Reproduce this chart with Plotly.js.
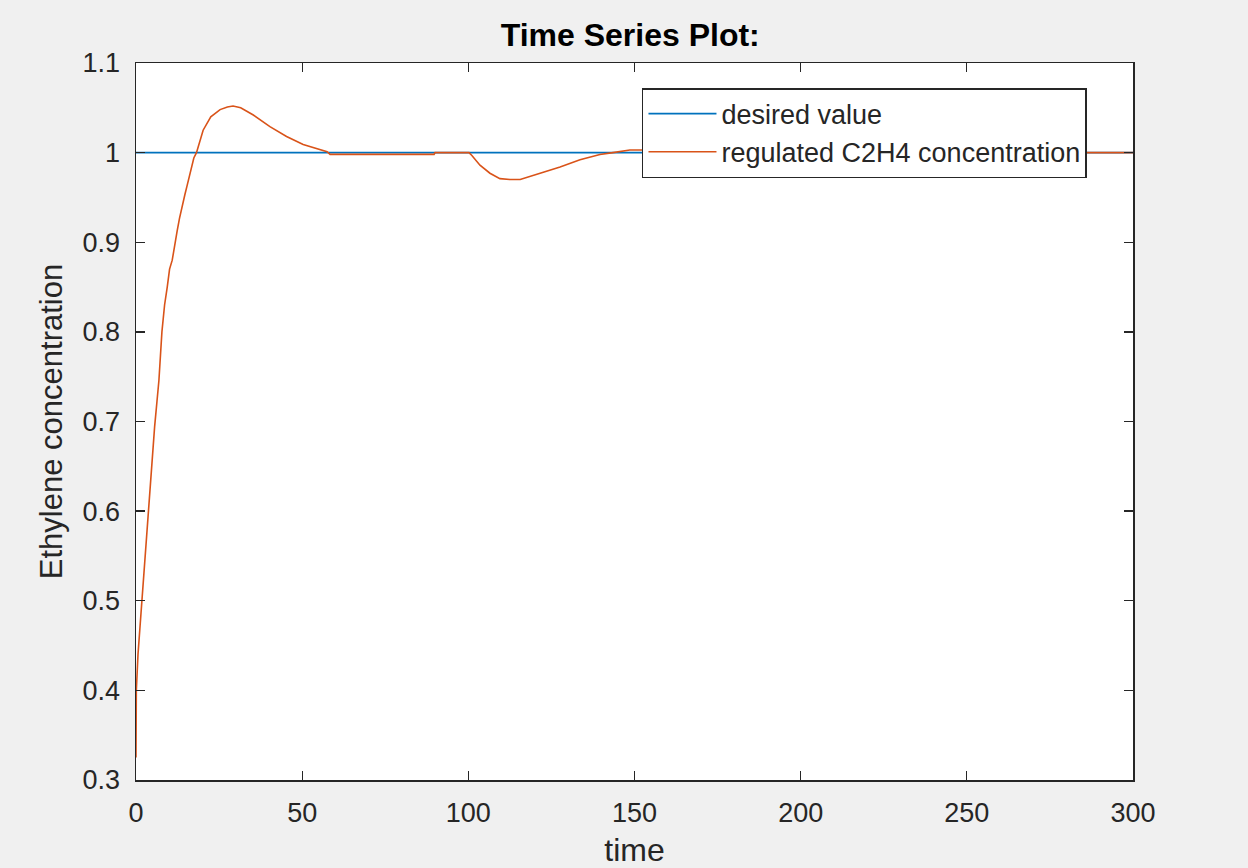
<!DOCTYPE html>
<html>
<head>
<meta charset="utf-8">
<script src="https://cdn.plot.ly/plotly-3.0.1.min.js"></script>
<style>
html,body{margin:0;padding:0;background:#f0f0f0;}
#chart{width:1248px;height:868px;}
</style>
</head>
<body>
<div id="chart"></div>
<script>
var desiredTime = [0, 300];
var desiredValue = [1, 1];

var time = [0, 0.1, 0.6, 1.4, 2.1, 2.8, 3.6, 4.3, 4.9, 5.6, 6.3, 6.9, 7.8, 8.6, 9.4, 10.1, 10.9, 11.6, 12.4, 13.1, 13.8, 14.7, 15.3, 15.9, 16.6, 17.4, 18.2, 20.2, 22.5, 25.3, 27.5, 29.2, 31.5, 35.3, 40.3, 45.3, 50.3, 54.5, 57.5, 58.4, 89.7, 90, 100.2, 101, 103.5, 106.5, 109.5, 112.5, 115.6, 121.6, 127.6, 133.6, 139.6, 143.5, 148.6, 152.5, 155, 300];
var concentration = [0.325, 0.40, 0.44, 0.48, 0.52, 0.56, 0.60, 0.632, 0.663, 0.694, 0.722, 0.746, 0.80, 0.83, 0.85, 0.87, 0.88, 0.898, 0.913, 0.927, 0.94, 0.953, 0.962, 0.972, 0.983, 0.994, 1.0, 1.025, 1.04, 1.048, 1.051, 1.052, 1.05, 1.042, 1.029, 1.018, 1.009, 1.004, 1.001, 0.998, 0.998, 1.0, 1.0, 0.997, 0.986, 0.977, 0.971, 0.970, 0.970, 0.977, 0.984, 0.992, 0.998, 1.0, 1.003, 1.003, 1.0, 1.0];

var xTicks = [0, 50, 100, 150, 200, 250, 300];
var yTicks = [0.3, 0.4, 0.5, 0.6, 0.7, 0.8, 0.9, 1, 1.1];
var yTickLabels = ['0.3', '0.4', '0.5', '0.6', '0.7', '0.8', '0.9', '1', '1.1'];

var font = 'Liberation Sans, Arial, sans-serif';

var traces = [
  {x: desiredTime, y: desiredValue, type: 'scatter', mode: 'lines', name: 'desired value',
   line: {color: '#0072BD', width: 1.6}},
  {x: time, y: concentration, type: 'scatter', mode: 'lines', name: 'regulated C2H4 concentration',
   line: {color: '#D95319', width: 1.6}}
];

var axisCommon = {
  showgrid: false, zeroline: false, showline: true, linecolor: '#262626', linewidth: 1.5,
  mirror: 'ticks', ticks: 'inside', ticklen: 9, tickwidth: 1.3, tickcolor: '#262626',
  tickfont: {family: font, size: 27, color: '#262626'}
};

var layout = {
  width: 1248, height: 868,
  paper_bgcolor: '#f0f0f0', plot_bgcolor: '#ffffff',
  margin: {l: 136, r: 115, t: 63, b: 88},
  title: {text: '<b>Time Series Plot:</b>', x: 0.505, xanchor: 'center', y: 0.96, yanchor: 'middle',
          font: {family: font, size: 32, color: '#000'}},
  xaxis: Object.assign({}, axisCommon, {
    range: [0, 300], tickvals: xTicks, ticktext: xTicks.map(String), ticklabelstandoff: 8,
    title: {text: 'time', font: {family: font, size: 32, color: '#262626'}, standoff: 14}
  }),
  yaxis: Object.assign({}, axisCommon, {
    range: [0.3, 1.1], tickvals: yTicks, ticktext: yTickLabels, ticklabelstandoff: 9,
    title: {text: 'Ethylene concentration', font: {family: font, size: 31, color: '#262626'}, standoff: 10}
  }),
  showlegend: true,
  legend: {x: 0.5075, y: 0.965, xanchor: 'left', yanchor: 'top', bgcolor: '#ffffff',
           bordercolor: '#262626', borderwidth: 1.5, itemwidth: 68,
           font: {family: font, size: 27, color: '#262626'}, tracegroupgap: 0}
};

Plotly.newPlot('chart', traces, layout, {displayModeBar: false, staticPlot: true});
</script>
</body>
</html>
